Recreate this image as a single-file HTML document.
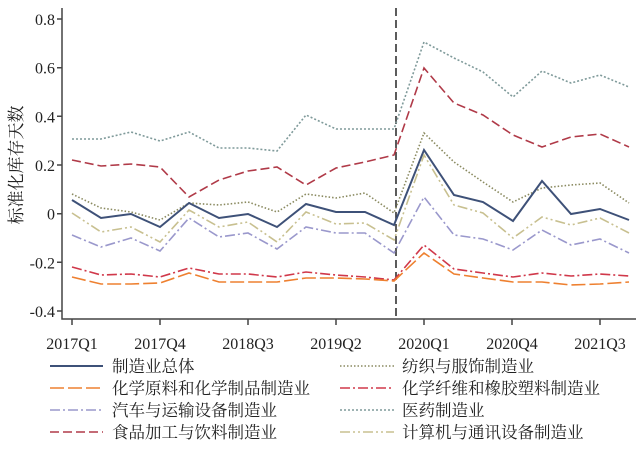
<!DOCTYPE html>
<html><head><meta charset="utf-8"><style>
html,body{margin:0;padding:0;background:#fff;}
svg text{font-family:"Liberation Serif","Noto Serif CJK SC",serif;fill:#222;}
svg text.cjk{font-family:"Noto Serif CJK SC","Noto Sans CJK SC",serif;}
</style></head><body>
<svg width="636" height="447" viewBox="0 0 636 447" xmlns="http://www.w3.org/2000/svg">
<g stroke="#444" stroke-width="1.5" fill="none">
<path d="M62,8 V319 H636"/>
<path d="M57,19H62M57,67.7H62M57,116.3H62M57,165H62M57,213.7H62M57,262.3H62M57,311H62"/>
<path d="M72,319V325M160,319V325M248,319V325M336,319V325M424,319V325M512,319V325M600,319V325"/>
</g>
<g font-size="16" text-anchor="end">
<text x="55" y="25">0.8</text><text x="55" y="73.7">0.6</text><text x="55" y="122.3">0.4</text>
<text x="55" y="171">0.2</text><text x="55" y="219.7">0</text><text x="55" y="268.3">-0.2</text><text x="55" y="317">-0.4</text>
</g>
<g font-size="16" text-anchor="middle">
<text x="72" y="349">2017Q1</text><text x="160" y="349">2017Q4</text><text x="248" y="349">2018Q3</text>
<text x="336" y="349">2019Q2</text><text x="424" y="349">2020Q1</text><text x="512" y="349">2020Q4</text><text x="600" y="349">2021Q3</text>
</g>
<text class="cjk" transform="translate(22,165) rotate(-90)" font-size="17" text-anchor="middle">标准化库存天数</text>
<line x1="396" y1="8" x2="396" y2="319" stroke="#333" stroke-width="1.6" stroke-dasharray="8,4"/>
<g fill="none" stroke-width="1.6">
<polyline stroke="#7f9a9a" stroke-dasharray="2,2" points="72,139 101,139 131,132 160,141 189,132 219,148 248,148 277,151 306,115 336,129 365,129 394,129 424,42 454,58 483,72 513,97 542,71 571,83 600,75 629,87"/>
<polyline stroke="#b03a48" stroke-dasharray="9,4" points="72,160 101,166 131,164 160,167 189,197 219,180 248,171 277,167 306,185 336,168 365,162 394,155 424,68 454,103 483,115 513,135 542,147 571,137 600,134 629,147"/>
<polyline stroke="#8a8a60" stroke-dasharray="1.5,2" points="72,194 101,208 131,212 160,220 189,203 219,205 248,202 277,212 306,194 336,198 365,193 394,213 424,133 454,162 483,182 513,202 542,188 571,185 600,183 629,203"/>
<polyline stroke="#3e5178" stroke-width="2" points="72,200 101,218 131,214 160,227 189,203 219,218 248,214 277,227 306,204 336,212 365,212 394,225 424,150 454,195 483,202 513,221 542,181 571,214 600,209 629,220"/>
<polyline stroke="#c8c090" stroke-dasharray="10,3,2,3,2,3" points="72,213 101,232 131,227 160,242 189,210 219,227 248,222 277,242 306,212 336,224 365,223 394,240 424,155 454,205 483,213 513,238 542,217 571,225 600,218 629,233"/>
<polyline stroke="#9a98cc" stroke-dasharray="10,3,2,3" points="72,235 101,247 131,238 160,251 189,218 219,237 248,233 277,249 306,227 336,233 365,233 394,253 424,197 454,235 483,239 513,250 542,230 571,245 600,239 629,253"/>
<polyline stroke="#d0384a" stroke-dasharray="10,3,2,3" points="72,267 101,275 131,274 160,277 189,268 219,274 248,274 277,277 306,272 336,275 365,277 394,280 424,245 454,269 483,273 513,277 542,273 571,276 600,274 629,276"/>
<polyline stroke="#ee8030" stroke-dasharray="14,4" points="72,277 101,284 131,284 160,283 189,273 219,282 248,282 277,282 306,278 336,278 365,279 394,281 424,253 454,274 483,278 513,282 542,282 571,285 600,284 629,282"/>
</g>
<g font-size="16.5" class="cjk">
<text class="cjk" x="112" y="372">制造业总体</text>
<text class="cjk" x="112" y="394">化学原料和化学制品制造业</text>
<text class="cjk" x="112" y="416">汽车与运输设备制造业</text>
<text class="cjk" x="112" y="438">食品加工与饮料制造业</text>
<text class="cjk" x="402" y="372">纺织与服饰制造业</text>
<text class="cjk" x="402" y="394">化学纤维和橡胶塑料制造业</text>
<text class="cjk" x="402" y="416">医药制造业</text>
<text class="cjk" x="402" y="438">计算机与通讯设备制造业</text>
</g>
<g fill="none" stroke-width="1.6">
<line x1="50" y1="366" x2="103" y2="366" stroke="#3e5178" stroke-width="2"/>
<line x1="50" y1="388" x2="103" y2="388" stroke="#ee8030" stroke-dasharray="14,4"/>
<line x1="50" y1="410" x2="103" y2="410" stroke="#9a98cc" stroke-dasharray="10,3,2,3"/>
<line x1="50" y1="432" x2="103" y2="432" stroke="#b03a48" stroke-dasharray="9,4"/>
<line x1="340" y1="366" x2="394" y2="366" stroke="#8a8a60" stroke-dasharray="1.5,2"/>
<line x1="340" y1="388" x2="394" y2="388" stroke="#d0384a" stroke-dasharray="10,3,2,3"/>
<line x1="340" y1="410" x2="394" y2="410" stroke="#7f9a9a" stroke-dasharray="2,2"/>
<line x1="340" y1="432" x2="394" y2="432" stroke="#c8c090" stroke-dasharray="10,3,2,3,2,3"/>
</g>
</svg>
</body></html>
